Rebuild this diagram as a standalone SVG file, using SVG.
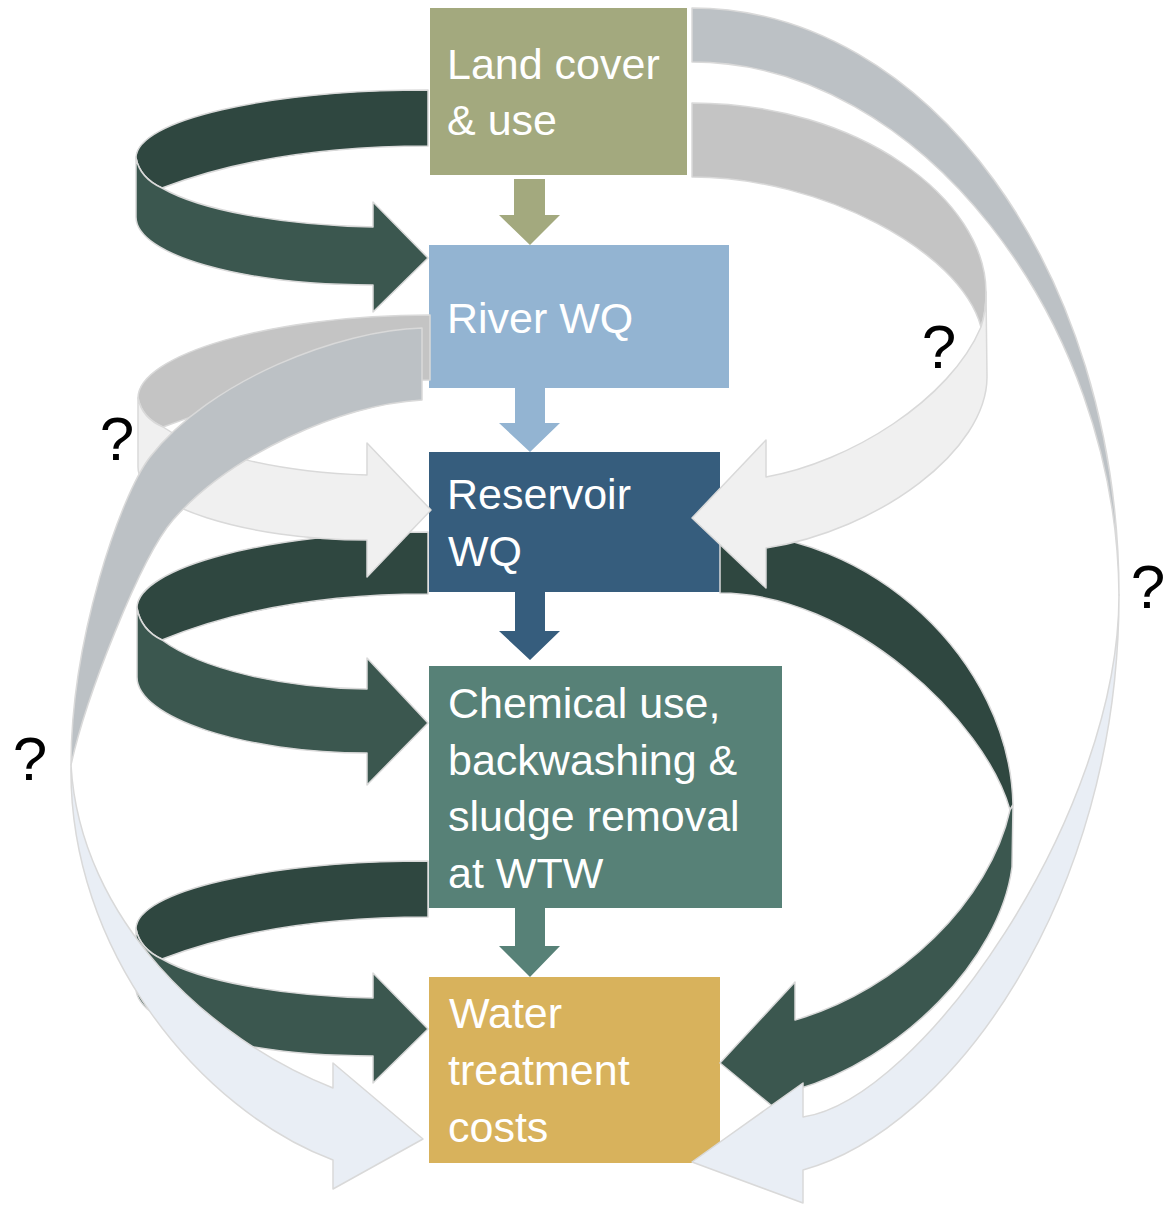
<svg xmlns="http://www.w3.org/2000/svg" width="1166" height="1205" viewBox="0 0 1166 1205">
<style>
.box text{font-family:"Liberation Sans",Arial,sans-serif;font-size:43px;fill:#ffffff}
.rib path{stroke:#d9d9d9;stroke-width:1.5;stroke-linejoin:round}
.dkb{fill:#2f4740}.dkf{fill:#3b574f}
.lgb{fill:#c4c4c4}.lgf{fill:#f0f0f0}
.blb{fill:#bcc1c5}.blf{fill:#e9eef5}
.q{font-family:"Liberation Sans",Arial,sans-serif;font-size:62px;fill:#000000;text-anchor:middle}
</style>
<rect width="1166" height="1205" fill="#ffffff"/>
<g id="nodes">
<g id="land" class="box"><rect x="430" y="8" width="257" height="167" fill="#a3a97e"/><text x="447" y="79">Land cover</text><text x="447" y="135">&amp; use</text></g>
<g id="river" class="box"><rect x="429" y="245" width="300" height="143" fill="#93b4d2"/><text x="447" y="333">River WQ</text></g>
<g id="reservoir" class="box"><rect x="429" y="452" width="291" height="140" fill="#365d7d"/><text x="447" y="509">Reservoir</text><text x="448" y="566">WQ</text></g>
<g id="chemical" class="box"><rect x="429" y="666" width="353" height="242" fill="#578177"/><text x="448" y="718">Chemical use,</text><text x="448" y="775">backwashing &amp;</text><text x="448" y="831">sludge removal</text><text x="448" y="888">at WTW</text></g>
<g id="water" class="box"><rect x="429" y="977" width="291" height="186" fill="#d8b25c"/><text x="449" y="1028">Water</text><text x="448" y="1085">treatment</text><text x="448" y="1142">costs</text></g>
</g>
<g id="connectors">
<polygon points="514,179 545,179 545,215 560,215 530,245 499,215 514,215" fill="#a3a97e"/>
<polygon points="515,388 545,388 545,423 560,423 530,452 499,423 515,423" fill="#93b4d2"/>
<polygon points="515,592 545,592 545,631 560,631 530,660 499,631 515,631" fill="#365d7d"/>
<polygon points="515,908 545,908 545,946 560,946 530,977 499,946 515,946" fill="#578177"/>
<g class="rib" id="a1">
<path class="dkb" d="M428,90 C268,90 136,120 136,158 Q140,178 162,188 C230,162 320,146 428,146 Z"/>
<path class="dkf" d="M136,158 L136,217 C136,255 242,285 373,285 L373,312 L428,258 L373,202 L373,227 C280,225 200,210 162,188 Q140,178 136,158 Z"/>
</g>
<g class="rib" id="a3">
<path class="dkb" d="M428,532 C268,532 137,568 137,608 Q141,630 162,640 C230,612 320,594 428,594 Z"/>
<path class="dkf" d="M137,608 L137,677 C137,718 245,753 367,753 L367,785 L428,723 L367,658 L367,689 C280,688 200,668 162,640 Q141,630 137,608 Z"/>
</g>
<g class="rib" id="a4">
<path class="dkb" d="M428,861 C268,861 136,891 136,929 Q140,949 162,959 C230,933 320,917 428,917 Z"/>
<path class="dkf" d="M136,929 L136,988 C136,1026 242,1056 373,1056 L373,1083 L428,1029 L373,973 L373,998 C280,996 200,981 162,959 Q140,949 136,929 Z"/>
</g>
<g class="rib" id="a6">
<path class="dkb" d="M720,533 C870,530 1010,660 1013,805 L1010,810 C985,720 850,593 720,593 Z"/>
<path class="dkf" d="M1013,805 L1012,867 C1000,960 900,1060 795,1090 L795,1125 L720,1063 L795,982 L795,1020 C900,990 990,900 1010,810 Z"/>
</g>
<g class="rib" id="a2">
<path class="lgb" d="M430,315 C270,315 138,355 138,398 Q142,418 163,427 C240,398 330,380 430,380 Z"/>
<path class="lgf" d="M138,398 L138,467 C138,505 245,540 367,540 L367,577 L431,510 L367,443 L367,475 C280,472 205,455 163,427 Q142,418 138,398 Z"/>
</g>
<g class="rib" id="a5">
<path class="lgb" d="M692,103 C860,103 986,200 986,292 Q986,312 981,327 C960,250 820,177 692,177 Z"/>
<path class="lgf" d="M986,292 L987,377 C987,450 880,530 766,548 L766,588 L692,518 L766,440 L766,477 C850,462 950,400 981,327 Q986,312 986,292 Z"/>
</g>
<g class="rib" id="a7">
<path class="blb" d="M422,328 C340,330 210,380 150,457 C120,496 71,640 71,765 C85,700 140,558 173,520 C230,455 340,405 422,400 Z"/>
<path class="blf" d="M71,765 C68,950 200,1110 333,1160 L333,1189 L423,1139 L333,1063 L333,1088 C210,1040 80,920 71,765 Z"/>
</g>
<g class="rib" id="a8">
<path class="blb" d="M692,8 C928,8 1119,271 1119,595 C1117,320 920,62 692,62 Z"/>
<path class="blf" d="M1119,595 C1119,900 950,1130 803,1170 L803,1203 L692,1162 L803,1083 L803,1117 C920,1100 1119,817 1119,595 Z"/>
</g>
</g>
<g id="labels">
<text class="q" x="939" y="368">?</text>
<text class="q" x="117" y="460">?</text>
<text class="q" x="30" y="780">?</text>
<text class="q" x="1148" y="608">?</text>
</g>
</svg>
